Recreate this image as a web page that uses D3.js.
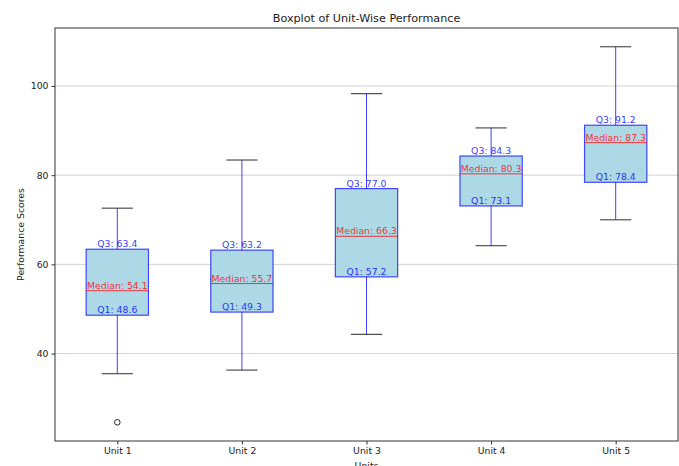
<!DOCTYPE html>
<html><head><meta charset="utf-8">
<script src="https://cdn.jsdelivr.net/npm/d3@7"></script>
<style>body{margin:0;background:#fff}svg{display:block}text{font-family:"DejaVu Sans",sans-serif}</style>
</head><body>
<svg id="c" width="679" height="466"></svg>
<script>
const units = ["Unit 1","Unit 2","Unit 3","Unit 4","Unit 5"];
const whiskerLow = [35.5, 36.3, 44.3, 64.2, 70.0];
const q1 = [48.6, 49.3, 57.2, 73.1, 78.4];
const median = [54.1, 55.7, 66.3, 80.3, 87.3];
const q3 = [63.4, 63.2, 77.0, 84.3, 91.2];
const whiskerHigh = [72.6, 83.4, 98.3, 90.6, 108.8];
const outliers = [[0, 24.6]];
const yTicks = [40, 60, 80, 100];

const svg = d3.select("#c");
const L = 55, R = 678, T = 28, B = 441;
const x = d3.scaleLinear().domain([0.5, 5.5]).range([L, R]);
const y = d3.scaleLinear().domain([20.4, 113.0]).range([B, T]);
const bw = (x(1.25) - x(1));
const cw = (x(1.125) - x(1));

// grid
svg.append("g").selectAll("line").data(yTicks).join("line")
  .attr("x1", L).attr("x2", R).attr("y1", d => y(d)).attr("y2", d => y(d))
  .attr("stroke", "#b0b0b0").attr("stroke-width", 0.8).attr("opacity", 0.7);

const g = svg.append("g");
units.forEach((u, i) => {
  const cx = x(i + 1);
  // box
  g.append("rect").attr("x", cx - bw).attr("width", 2 * bw)
    .attr("y", y(q3[i])).attr("height", y(q1[i]) - y(q3[i]))
    .attr("fill", "#add8e6").attr("stroke", "blue").attr("stroke-width", 1.2).attr("stroke-opacity", 0.7);
  // labels
  const lab = (v, t, col) => g.append("text").attr("x", cx).attr("y", y(v) - 2)
    .attr("text-anchor", "middle").attr("font-size", 9.3).attr("fill", col).attr("fill-opacity", 0.8).text(t);
  lab(q3[i], "Q3: " + q3[i].toFixed(1), "blue");
  lab(median[i], "Median: " + median[i].toFixed(1), "red");
  lab(q1[i], "Q1: " + q1[i].toFixed(1), "blue");
  // whiskers
  g.append("line").attr("x1", cx).attr("x2", cx).attr("y1", y(q3[i])).attr("y2", y(whiskerHigh[i]))
    .attr("stroke", "blue").attr("stroke-width", 1).attr("opacity", 0.75);
  g.append("line").attr("x1", cx).attr("x2", cx).attr("y1", y(q1[i])).attr("y2", y(whiskerLow[i]))
    .attr("stroke", "blue").attr("stroke-width", 1).attr("opacity", 0.75);
  // caps
  [whiskerHigh[i], whiskerLow[i]].forEach(v => {
    g.append("line").attr("x1", cx - cw).attr("x2", cx + cw).attr("y1", y(v)).attr("y2", y(v))
      .attr("stroke", "#333").attr("stroke-width", 1.2).attr("opacity", 0.85);
  });
  // median
  g.append("line").attr("x1", cx - bw).attr("x2", cx + bw).attr("y1", y(median[i])).attr("y2", y(median[i]))
    .attr("stroke", "red").attr("stroke-width", 1).attr("opacity", 0.75);
});
// outliers
g.selectAll("circle").data(outliers).join("circle")
  .attr("cx", d => x(d[0] + 1)).attr("cy", d => y(d[1])).attr("r", 2.8)
  .attr("fill", "none").attr("stroke", "#222").attr("stroke-width", 1);

// axes
const yAxis = svg.append("g").attr("transform", `translate(${L},0)`)
  .call(d3.axisLeft(y).tickValues(yTicks).tickSize(3.5).tickPadding(3));
const xAxis = svg.append("g").attr("transform", `translate(0,${B})`)
  .call(d3.axisBottom(x).tickValues([1,2,3,4,5]).tickFormat((d, i) => units[i]).tickSize(3.5).tickPadding(3));
[yAxis, xAxis].forEach(a => {
  a.select(".domain").remove();
  a.selectAll("text").attr("font-size", 9.3).attr("fill", "#222").attr("font-family", "DejaVu Sans");
  a.selectAll("line").attr("stroke", "#333");
});
svg.append("rect").attr("x", L).attr("y", T).attr("width", R - L).attr("height", B - T)
  .attr("fill", "none").attr("stroke", "#333").attr("stroke-width", 1);

// titles
svg.append("text").attr("x", (L + R) / 2).attr("y", 22).attr("text-anchor", "middle")
  .attr("font-size", 11.2).attr("fill", "#222").text("Boxplot of Unit-Wise Performance");
svg.append("text").attr("transform", `translate(24,${(T + B) / 2}) rotate(-90)`).attr("text-anchor", "middle")
  .attr("font-size", 9.3).attr("fill", "#222").text("Performance Scores");
svg.append("text").attr("x", (L + R) / 2).attr("y", 469).attr("text-anchor", "middle")
  .attr("font-size", 9.3).attr("fill", "#222").text("Units");
</script>
</body></html>
